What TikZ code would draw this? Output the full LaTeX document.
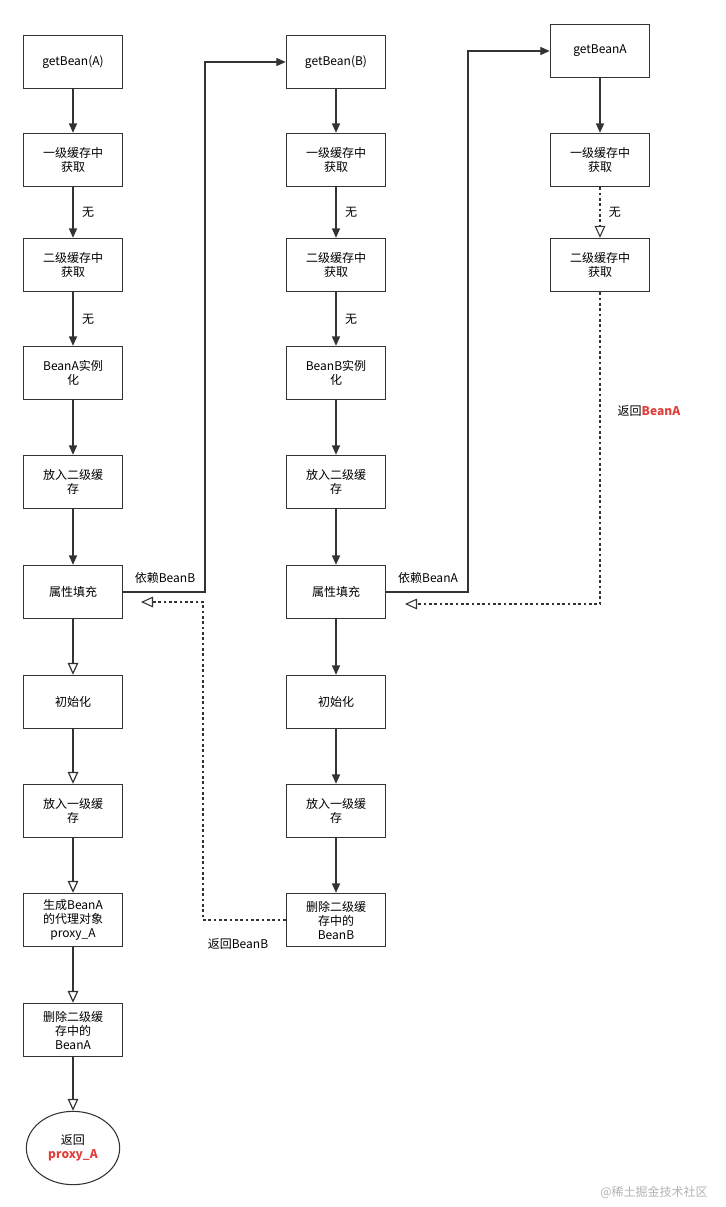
\documentclass[tikz,border=0pt]{standalone}
\usepackage{fontspec}
\setmainfont{Noto Sans CJK SC}
\usetikzlibrary{arrows.meta,shapes.geometric}
\definecolor{redt}{HTML}{E0403A}
\begin{document}
\begin{tikzpicture}[x=0.75pt,y=-0.75pt,
  box/.style={draw=black!80,line width=0.8pt,minimum width=72pt,minimum height=40pt,align=center,font=\fontsize{9}{10.5}\selectfont,text width=68pt},
  fa/.style={draw=black!80,line width=0.9pt,-{Triangle[length=7pt,width=6pt]}},
  oa/.style={draw=black!80,line width=0.9pt,-{Triangle[open,length=9pt,width=8pt]}},
  da/.style={draw=black!80,line width=0.8pt,dashed,dash pattern=on 2pt off 2pt,-{Triangle[open,length=9pt,width=8pt]}},
  lab/.style={font=\fontsize{9}{10.5}\selectfont}]
\useasboundingbox (0,0) rectangle (725,1207);
% column 1
\node[box] (a1) at (73,62) {getBean(A)};
\node[box] (a2) at (73,160) {一级缓存中\\获取};
\node[box] (a3) at (73,265) {二级缓存中\\获取};
\node[box] (a4) at (73,373) {BeanA实例\\化};
\node[box] (a5) at (73,482) {放入二级缓\\存};
\node[box] (a6) at (73,592) {属性填充};
\node[box] (a7) at (73,702) {初始化};
\node[box] (a8) at (73,811) {放入一级缓\\存};
\node[box] (a9) at (73,920) {生成BeanA\\的代理对象\\proxy\_A};
\node[box] (a10) at (73,1030) {删除二级缓\\存中的\\BeanA};
\node[draw=black!80,line width=0.8pt,ellipse,minimum width=70pt,minimum height=55pt,inner sep=0pt,align=center,font=\fontsize{9}{10.5}\selectfont] (a11) at (73,1148) {返回\\\textcolor{redt}{\textbf{proxy\_A}}};
% column 2
\node[box] (b1) at (336,62) {getBean(B)};
\node[box] (b2) at (336,160) {一级缓存中\\获取};
\node[box] (b3) at (336,265) {二级缓存中\\获取};
\node[box] (b4) at (336,373) {BeanB实例\\化};
\node[box] (b5) at (336,482) {放入二级缓\\存};
\node[box] (b6) at (336,592) {属性填充};
\node[box] (b7) at (336,702) {初始化};
\node[box] (b8) at (336,811) {放入一级缓\\存};
\node[box] (b9) at (336,920) {删除二级缓\\存中的\\BeanB};
% column 3
\node[box] (c1) at (600,51) {getBeanA};
\node[box] (c2) at (600,160) {一级缓存中\\获取};
\node[box] (c3) at (600,265) {二级缓存中\\获取};
% arrows col1
\draw[fa] (a1) -- (a2);
\draw[fa] (a2) -- (a3) node[lab,midway,right=3pt] {无};
\draw[fa] (a3) -- (a4) node[lab,midway,right=3pt] {无};
\draw[fa] (a4) -- (a5);
\draw[fa] (a5) -- (a6);
\draw[oa] (a6) -- (a7);
\draw[oa] (a7) -- (a8);
\draw[oa] (a8) -- (a9);
\draw[oa] (a9) -- (a10);
\draw[oa] (a10) -- (a11);
% col2
\draw[fa] (b1) -- (b2);
\draw[fa] (b2) -- (b3) node[lab,midway,right=3pt] {无};
\draw[fa] (b3) -- (b4) node[lab,midway,right=3pt] {无};
\draw[fa] (b4) -- (b5);
\draw[fa] (b5) -- (b6);
\draw[fa] (b6) -- (b7);
\draw[fa] (b7) -- (b8);
\draw[fa] (b8) -- (b9);
% col3
\draw[fa] (c1) -- (c2);
\draw[da] (c2) -- (c3) node[lab,midway,right=3pt] {无};
% cross connectors
\draw[fa] (a6.east) -- (205,592) -- (205,62) -- (b1.west);
\node[lab] (l1) at (165,578) {依赖BeanB};
\draw[fa] (b6.east) -- (468,592) -- (468,51) -- (c1.west);
\node[lab] (l2) at (428,578) {依赖BeanA};
\coordinate (e1) at (405,604);
\draw[da] (c3.south) -- (600,604) -- (e1);
\node[lab] (l3) at (649,411) {返回\textcolor{redt}{\textbf{BeanA}}};
\coordinate (e2) at (141,602);
\draw[da] (b9.west) -- (203,920) -- (203,602) -- (e2);
\node[lab] (l4) at (238,944) {返回BeanB};
\node[font=\fontsize{9}{10}\selectfont,text=black!30] (wm) at (654,1192) {@稀土掘金技术社区};
\end{tikzpicture}
\end{document}
